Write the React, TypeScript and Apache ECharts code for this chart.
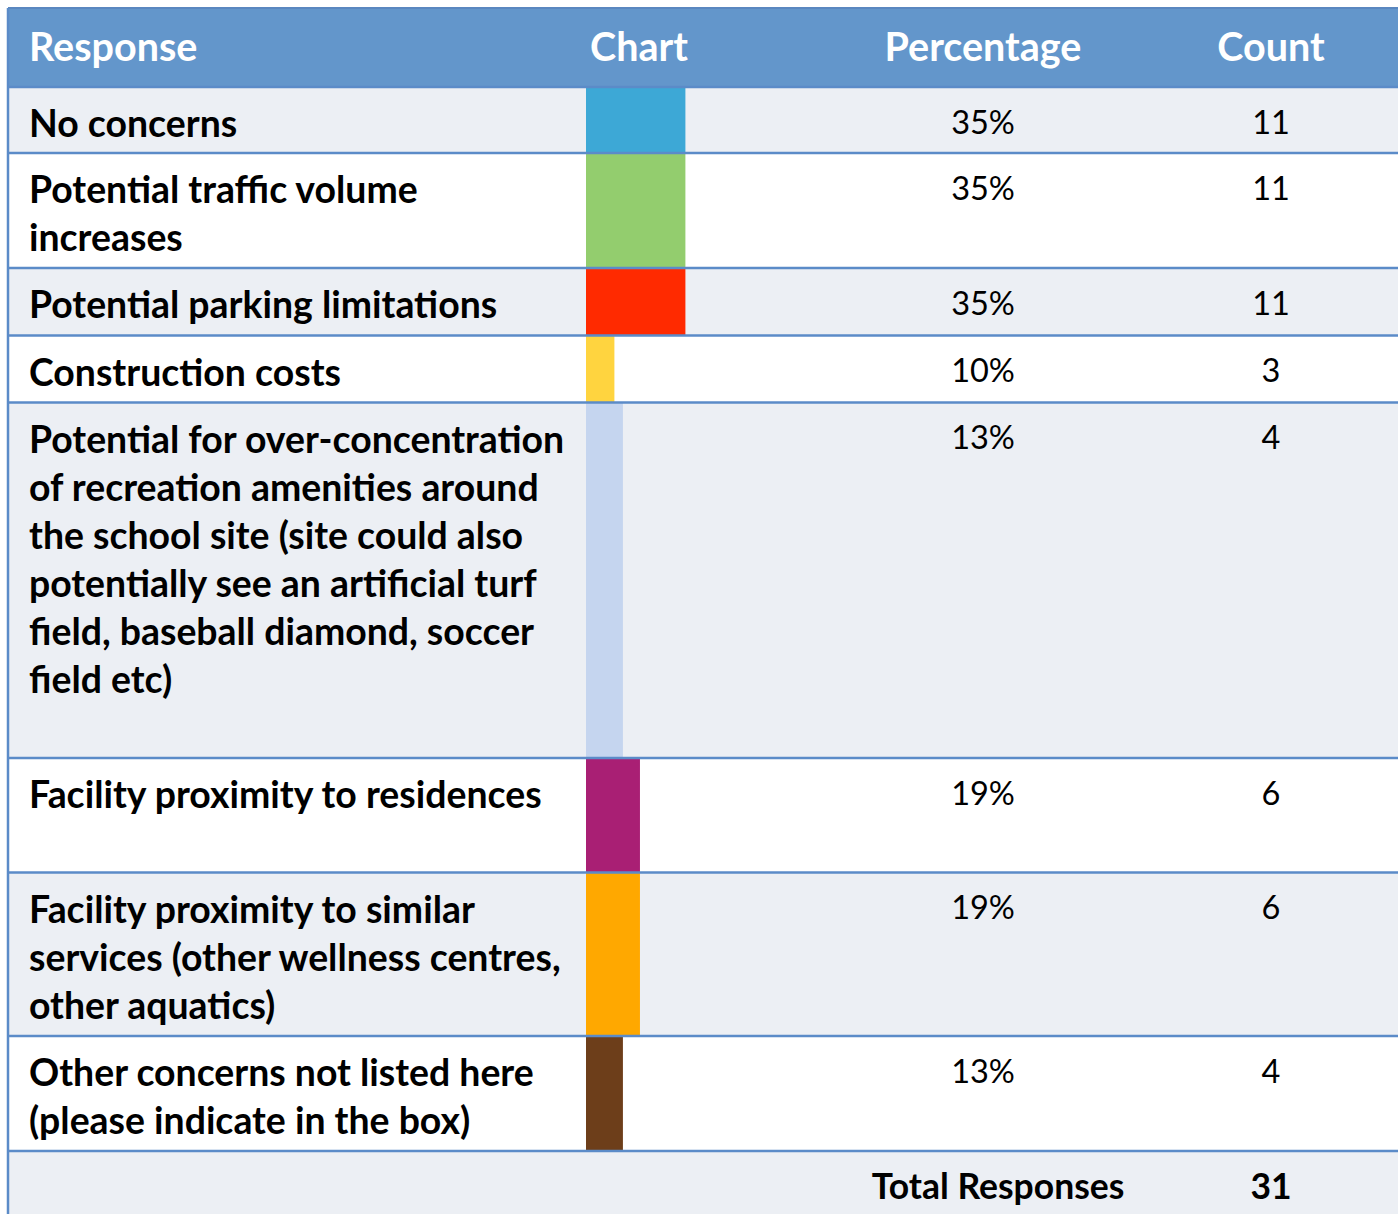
import React, { useEffect, useRef } from "react";
import * as echarts from "echarts";

// ---- data ----
const columnHeaders = ["Response", "Chart", "Percentage", "Count"];
const responses = [
  "No concerns",
  "Potential traffic volume\nincreases",
  "Potential parking limitations",
  "Construction costs",
  "Potential for over-concentration\nof recreation amenities around\nthe school site (site could also\npotentially see an artificial turf\nfield, baseball diamond, soccer\nfield etc)",
  "Facility proximity to residences",
  "Facility proximity to similar\nservices (other wellness centres,\nother aquatics)",
  "Other concerns not listed here\n(please indicate in the box)",
];
const percentages = [35, 35, 35, 10, 13, 19, 19, 13];
const counts = [11, 11, 11, 3, 4, 6, 6, 4];
const totalLabel = "Total Responses";
const totalResponses = 31;

// ---- styles / layout ----
const BAR_COLORS = ["#3da8d6", "#93cd6e", "#ff2a00", "#ffd43f", "#c5d5ef", "#a91f74", "#ffa800", "#6d3e1a"];
const ROW_EDGES = [87, 153, 268, 335.5, 402.5, 758, 872.5, 1036, 1151, 1214];
const W = 1398;
const H = 1214;
const LEFT = 8;
const TOP = 8;
const FONT = "Lato";
const LINE = "#5b8bc8";
const HEADER_FILL = "#6396cb";
const ALT_FILL = "#eceff4";
const PCT_X = 983;
const COUNT_X = 1271;

export default function App() {
  const ref = useRef<HTMLDivElement>(null);
  useEffect(() => {
    if (!ref.current) return;
    const chart = echarts.init(ref.current, undefined, { renderer: "svg" });
    const graphic: any[] = [];
    // header
    graphic.push({ type: "rect", z: 1, shape: { x: LEFT, y: TOP, width: W - LEFT, height: ROW_EDGES[0] - TOP }, style: { fill: HEADER_FILL } });
    // row fills
    for (let i = 0; i < ROW_EDGES.length - 1; i++) {
      graphic.push({
        type: "rect", z: 1,
        shape: { x: LEFT, y: ROW_EDGES[i], width: W - LEFT, height: ROW_EDGES[i + 1] - ROW_EDGES[i] + (i === ROW_EDGES.length - 2 ? 10 : 0) },
        style: { fill: i % 2 === 0 ? ALT_FILL : "#ffffff" },
      });
    }
    // lines
    graphic.push({ type: "line", z: 10, shape: { x1: LEFT, y1: TOP, x2: W, y2: TOP }, style: { stroke: "#5a87c0", lineWidth: 2 } });
    graphic.push({ type: "line", z: 10, shape: { x1: LEFT, y1: TOP, x2: LEFT, y2: H + 5 }, style: { stroke: LINE, lineWidth: 2.5 } });
    for (let i = 0; i < ROW_EDGES.length - 1; i++) {
      graphic.push({ type: "line", z: 10, shape: { x1: LEFT, y1: ROW_EDGES[i], x2: W, y2: ROW_EDGES[i] }, style: { stroke: LINE, lineWidth: 2.5 } });
    }
    // header texts
    const headerX = [29, 590, PCT_X, COUNT_X];
    const headerAlign = ["left", "left", "center", "center"];
    columnHeaders.forEach((h, i) => {
      graphic.push({
        type: "text", z: 11, x: headerX[i], y: 45.5,
        style: { text: h, fill: "#ffffff", fontFamily: FONT, fontWeight: "bold", fontSize: 39.5, align: headerAlign[i], textAlign: headerAlign[i], verticalAlign: "middle", textVerticalAlign: "middle" },
      });
    });
    // row texts
    responses.forEach((r, i) => {
      const top = ROW_EDGES[i];
      graphic.push({
        type: "text", z: 11, x: 29, y: top + 35.5 - 24,
        style: { text: r, fill: "#000000", fontFamily: FONT, fontWeight: "bold", fontSize: 37.4, lineHeight: 48, align: "left", textAlign: "left", verticalAlign: "top", textVerticalAlign: "top" },
      });
      graphic.push({
        type: "text", z: 11, x: PCT_X, y: top + 34,
        style: { text: percentages[i] + "%", fill: "#000000", fontFamily: FONT, fontSize: 32.5, align: "center", textAlign: "center", verticalAlign: "middle", textVerticalAlign: "middle" },
      });
      graphic.push({
        type: "text", z: 11, x: COUNT_X, y: top + 34,
        style: { text: String(counts[i]), fill: "#000000", fontFamily: FONT, fontSize: 32.5, align: "center", textAlign: "center", verticalAlign: "middle", textVerticalAlign: "middle" },
      });
    });
    // total row
    graphic.push({
      type: "text", z: 11, x: 998, y: 1185.5,
      style: { text: totalLabel, fill: "#000000", fontFamily: FONT, fontWeight: "bold", fontSize: 35.5, align: "center", textAlign: "center", verticalAlign: "middle", textVerticalAlign: "middle" },
    });
    graphic.push({
      type: "text", z: 11, x: COUNT_X, y: 1185.5,
      style: { text: String(totalResponses), fill: "#000000", fontFamily: FONT, fontWeight: "bold", fontSize: 35.5, align: "center", textAlign: "center", verticalAlign: "middle", textVerticalAlign: "middle" },
    });

    chart.setOption({
      animation: false,
      grid: { left: 586, top: 0, width: 284, height: H },
      xAxis: { type: "value", min: 0, max: 100, show: false },
      yAxis: { type: "value", min: 0, max: H, inverse: true, show: false },
      series: [
        {
          type: "custom",
          z: 5,
          clip: false,
          data: percentages.map((p, i) => [p, i]),
          renderItem: (params: any, api: any) => {
            const i = api.value(1);
            const p = api.value(0);
            const a = api.coord([0, ROW_EDGES[i]]);
            const b = api.coord([p, ROW_EDGES[i + 1]]);
            return { type: "rect", shape: { x: a[0], y: a[1], width: b[0] - a[0], height: b[1] - a[1] }, style: { fill: BAR_COLORS[i] } };
          },
        },
      ],
      graphic,
    });
    return () => chart.dispose();
  }, []);
  return <div ref={ref} style={{ position: "absolute", left: 0, top: 0, width: W, height: H }} />;
}
